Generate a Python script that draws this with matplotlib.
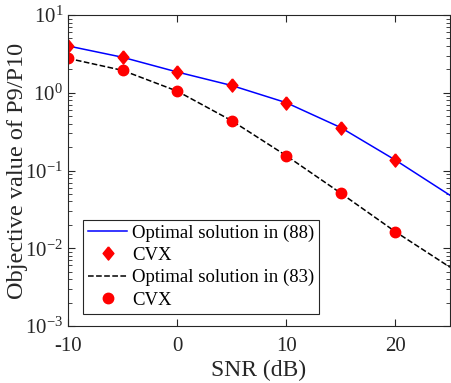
import matplotlib
matplotlib.use("Agg")
import matplotlib.pyplot as plt
import numpy as np

# data
snr_line = [-10, -5, 0, 5, 10, 15, 20, 25]
opt_88 = [4.0, 2.86, 1.85, 1.24, 0.745, 0.356, 0.136, 0.048]
opt_83 = [2.77, 1.94, 1.05, 0.437, 0.155, 0.051, 0.0163, 0.0057]

snr_cvx = [-10, -5, 0, 5, 10, 15, 20]
cvx_88 = [4.0, 2.86, 1.85, 1.24, 0.745, 0.356, 0.136]
cvx_83 = [2.77, 1.94, 1.05, 0.437, 0.155, 0.051, 0.0163]

plt.rcParams['font.family'] = ['Liberation Serif', 'DejaVu Serif']
plt.rcParams['mathtext.fontset'] = 'stix'

# matlab-like diamond, a bit taller than wide
diamond = [(0, 1), (0.82, 0), (0, -1), (-0.82, 0), (0, 1)]

fig = plt.figure(figsize=(4.51, 3.83), dpi=100)
ax = fig.add_axes([68/451, 1-326/383, 382/451, 311/383])

ax.semilogy(snr_line, opt_88, '-', color='blue', lw=1.1, label='Optimal solution in (88)')
ax.semilogy(snr_cvx, cvx_88, linestyle='none', marker=diamond, color='red', ms=9.5, label='CVX')
ax.semilogy(snr_line, opt_83, '--', color='black', lw=1.1, label='Optimal solution in (83)')
ax.semilogy(snr_cvx, cvx_83, 'o', color='red', ms=7.5, label='CVX')

ax.set_xlim(-10, 25)
ax.set_ylim(1e-3, 1e1)
ax.set_xticks([-10, 0, 10, 20])
ax.set_xticklabels(['-10', '0', '10', '20'])
ax.tick_params(which='both', direction='in', top=True, right=True, labelsize=15, colors='#262626')
ax.tick_params(which='major', length=5)
ax.tick_params(which='minor', length=3)
ax.tick_params(axis='x', pad=8)
for s in ax.spines.values():
    s.set_color('#262626')

ax.set_xlabel('SNR (dB)', fontsize=17, color='#262626', labelpad=3)
ax.set_ylabel('Objective value of P9/P10', fontsize=17.5, color='#262626')
ax.yaxis.set_label_coords(-0.105, 0.5)

leg = ax.legend(loc='lower left', bbox_to_anchor=(0.04, 0.04), fontsize=13.5, frameon=True,
                fancybox=False, edgecolor='#262626', framealpha=1, handlelength=2.1,
                labelspacing=0.28, borderpad=0.25, handletextpad=0.25, borderaxespad=0)
leg.get_frame().set_linewidth(0.8)

fig.savefig('out.png', dpi=100)
